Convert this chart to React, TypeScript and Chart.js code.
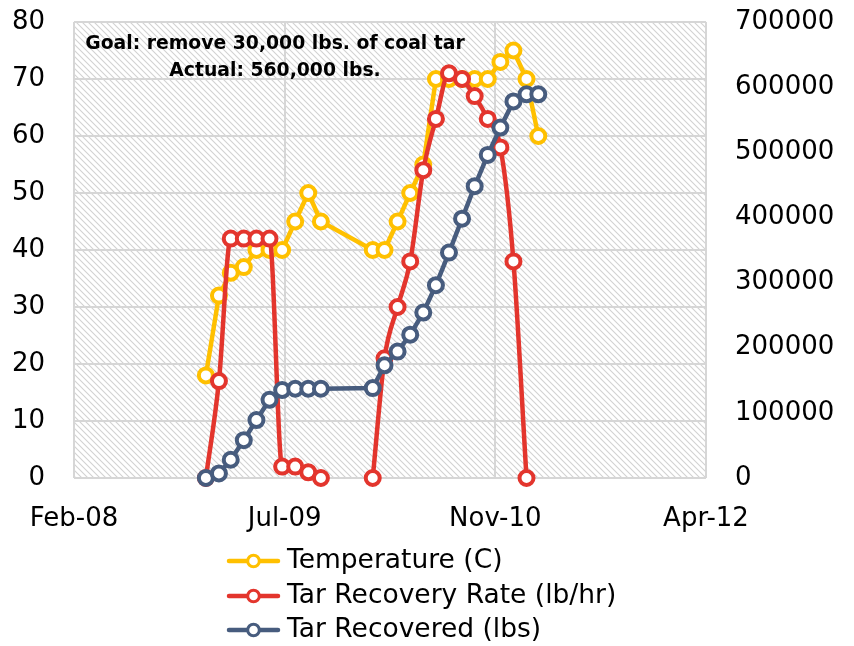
import React, { useEffect, useRef } from "react";
import { Chart, registerables } from "chart.js";

Chart.register(...registerables);

// ---------- data ----------
const dates = [
  "2008-12-31", "2009-01-31", "2009-02-28", "2009-03-31", "2009-04-30", "2009-05-31",
  "2009-06-30", "2009-07-31", "2009-08-31", "2009-09-30",
  "2010-01-31", "2010-02-28", "2010-03-31", "2010-04-30", "2010-05-31", "2010-06-30",
  "2010-07-31", "2010-08-31", "2010-09-30", "2010-10-31", "2010-11-30", "2010-12-31",
  "2011-01-31", "2011-02-28",
];
const temperatureC = [18, 32, 36, 37, 40, 40, 40, 45, 50, 45, 40, 40, 45, 50, 55, 70, 70, 70, 70, 70, 73, 75, 70, 60];
const tarRecoveryRate = [0, 17, 42, 42, 42, 42, 2, 2, 1, 0, 0, 21, 30, 38, 54, 63, 71, 70, 67, 63, 58, 38, 0, null];
const tarRecovered = [
  0, 7000, 28000, 58000, 89000, 120000, 135000, 137000, 137000, 137000,
  138000, 173000, 194000, 220000, 254000, 296000, 346000, 398000, 448000, 496000,
  538000, 578000, 589000, 589000,
];
const seriesNames = ["Temperature (C)", "Tar Recovery Rate (lb/hr)", "Tar Recovered (lbs)"];
const xAxisStart = "2008-02-22";
const xAxisEnd = "2012-04-01";
const xAxisStepDays = 500;
const leftAxis = { min: 0, max: 80, step: 10 };
const rightAxis = { min: 0, max: 700000, step: 100000 };
const annotationLines = ["Goal: remove 30,000 lbs. of coal tar", "Actual: 560,000 lbs."];
const monthNames = ["Jan", "Feb", "Mar", "Apr", "May", "Jun", "Jul", "Aug", "Sep", "Oct", "Nov", "Dec"];

// ---------- styles ----------
const COLORS = ["#FFC000", "#E3352D", "#475C7E"];
const FONT = "DejaVu Sans";
const GRID = "#d6d6d6";

const EXCEL_EPOCH = Date.UTC(1899, 11, 30);
const DAY = 86400000;
function serial(d: string): number {
  const [y, m, dd] = d.split("-").map(Number);
  return Math.round((Date.UTC(y, m - 1, dd) - EXCEL_EPOCH) / DAY);
}
function fmtSerial(v: number): string {
  const dt = new Date(EXCEL_EPOCH + v * DAY);
  return monthNames[dt.getUTCMonth()] + "-" + String(dt.getUTCFullYear() % 100).padStart(2, "0");
}

function makeHatch(): CanvasPattern | string {
  const s = 6;
  const c = document.createElement("canvas");
  c.width = s;
  c.height = s;
  const g = c.getContext("2d");
  if (!g) return "#fff";
  g.fillStyle = "#ffffff";
  g.fillRect(0, 0, s, s);
  g.strokeStyle = "#d2d2d2";
  g.lineWidth = 1.1;
  g.beginPath();
  g.moveTo(-1, -1);
  g.lineTo(s + 1, s + 1);
  g.moveTo(-1, s - 1);
  g.lineTo(1, s + 1);
  g.moveTo(s - 1, -1);
  g.lineTo(s + 1, 1);
  g.stroke();
  const p = g.createPattern(c, "repeat");
  return p || "#fff";
}

export default function App() {
  const ref = useRef<HTMLCanvasElement | null>(null);

  useEffect(() => {
    document.body.style.margin = "0";
    const canvas = ref.current;
    if (!canvas) return;
    const hatch = makeHatch();

    const tempData = dates.map((d, i) => ({ x: serial(d), y: temperatureC[i] }));
    const recData = dates.map((d, i) => ({ x: serial(d), y: tarRecovered[i] }));
    // the rate series is broken where the record has a long pause (no readings)
    const rateData: { x: number; y: number | null }[] = [];
    dates.forEach((d, i) => {
      if (i > 0 && serial(d) - serial(dates[i - 1]) > 45) {
        rateData.push({ x: (serial(d) + serial(dates[i - 1])) / 2, y: null });
      }
      rateData.push({ x: serial(d), y: tarRecoveryRate[i] });
    });

    const bgPlugin = {
      id: "bgHatch",
      beforeDraw(chart: any) {
        const { ctx, chartArea: a } = chart;
        ctx.save();
        ctx.fillStyle = "#ffffff";
        ctx.fillRect(0, 0, chart.width, chart.height);
        ctx.fillStyle = hatch;
        ctx.fillRect(a.left, a.top, a.right - a.left, a.bottom - a.top);
        ctx.restore();
      },
    };

    const overlayPlugin = {
      id: "overlay",
      afterDraw(chart: any) {
        const ctx = chart.ctx;
        ctx.save();
        // annotation
        ctx.fillStyle = "#000";
        ctx.font = `bold 18.8px "${FONT}"`;
        ctx.textAlign = "center";
        ctx.textBaseline = "middle";
        ctx.fillText(annotationLines[0], 275, 44);
        ctx.fillText(annotationLines[1], 275, 71);
        // legend
        const rowsY = [561, 596, 630];
        seriesNames.forEach((name, i) => {
          const y = rowsY[i];
          ctx.strokeStyle = COLORS[i];
          ctx.lineWidth = 4.5;
          ctx.lineCap = "round";
          ctx.beginPath();
          ctx.moveTo(229, y);
          ctx.lineTo(278, y);
          ctx.stroke();
          ctx.beginPath();
          ctx.arc(253.5, y, 5.8, 0, Math.PI * 2);
          ctx.fillStyle = "#fff";
          ctx.fill();
          ctx.lineWidth = 3;
          ctx.stroke();
          ctx.fillStyle = "#000";
          ctx.font = `26.5px "${FONT}"`;
          ctx.textAlign = "left";
          ctx.textBaseline = "middle";
          ctx.fillText(name, 287, y);
        });
        ctx.restore();
      },
    };

    const common = {
      pointRadius: 7,
      pointHoverRadius: 7,
      pointBorderWidth: 4,
      pointBackgroundColor: "#ffffff",
      borderWidth: 4.5,
      clip: false as const,
      fill: false,
    };

    const tickFont = { family: FONT, size: 26 };
    const noPad = (s: any) => {
      s.paddingTop = 0;
      s.paddingBottom = 0;
      s.paddingLeft = 0;
      s.paddingRight = 0;
    };

    const chart = new Chart(canvas, {
      type: "line",
      data: {
        datasets: [
          {
            ...common,
            label: seriesNames[0],
            data: tempData,
            yAxisID: "y",
            borderColor: COLORS[0],
            pointBorderColor: COLORS[0],
            tension: 0,
            order: 3,
          },
          {
            ...common,
            label: seriesNames[1],
            data: rateData,
            yAxisID: "y",
            borderColor: COLORS[1],
            pointBorderColor: COLORS[1],
            cubicInterpolationMode: "monotone",
            spanGaps: false,
            order: 2,
          },
          {
            ...common,
            label: seriesNames[2],
            data: recData,
            yAxisID: "y2",
            borderColor: COLORS[2],
            pointBorderColor: COLORS[2],
            tension: 0,
            order: 1,
          },
        ] as any,
      },
      options: {
        animation: false,
        responsive: false,
        devicePixelRatio: 1,
        layout: { padding: { top: 22, left: 0, right: 0, bottom: 0 } },
        plugins: { legend: { display: false }, tooltip: { enabled: false } },
        events: [],
        scales: {
          x: {
            type: "linear",
            min: serial(xAxisStart),
            max: serial(xAxisEnd),
            ticks: {
              stepSize: xAxisStepDays,
              callback: (v: any) => fmtSerial(Number(v)),
              font: tickFont,
              color: "#000",
              padding: 26,
              maxRotation: 0,
              autoSkip: false,
            },
            grid: { color: GRID, lineWidth: 2, drawTicks: false },
            border: { display: false },
            afterFit: (s: any) => {
              s.height = 168;
              noPad(s);
            },
          },
          y: {
            position: "left",
            min: leftAxis.min,
            max: leftAxis.max,
            ticks: { stepSize: leftAxis.step, font: tickFont, color: "#000", padding: 29 },
            grid: { color: GRID, lineWidth: 2, drawTicks: false },
            border: { display: false },
            afterFit: (s: any) => {
              s.width = 74;
              noPad(s);
            },
          },
          y2: {
            position: "right",
            min: rightAxis.min,
            max: rightAxis.max,
            ticks: {
              stepSize: rightAxis.step,
              font: tickFont,
              color: "#000",
              padding: 29,
              callback: (v: any) => String(v),
            },
            grid: { display: false, drawTicks: false },
            border: { display: false },
            afterFit: (s: any) => {
              s.width = 148;
              noPad(s);
            },
          },
        },
      } as any,
      plugins: [bgPlugin, overlayPlugin],
    });

    return () => chart.destroy();
  }, []);

  return (
    <div style={{ width: 854, height: 646 }}>
      <canvas ref={ref} width={854} height={646} style={{ display: "block" }} />
    </div>
  );
}
